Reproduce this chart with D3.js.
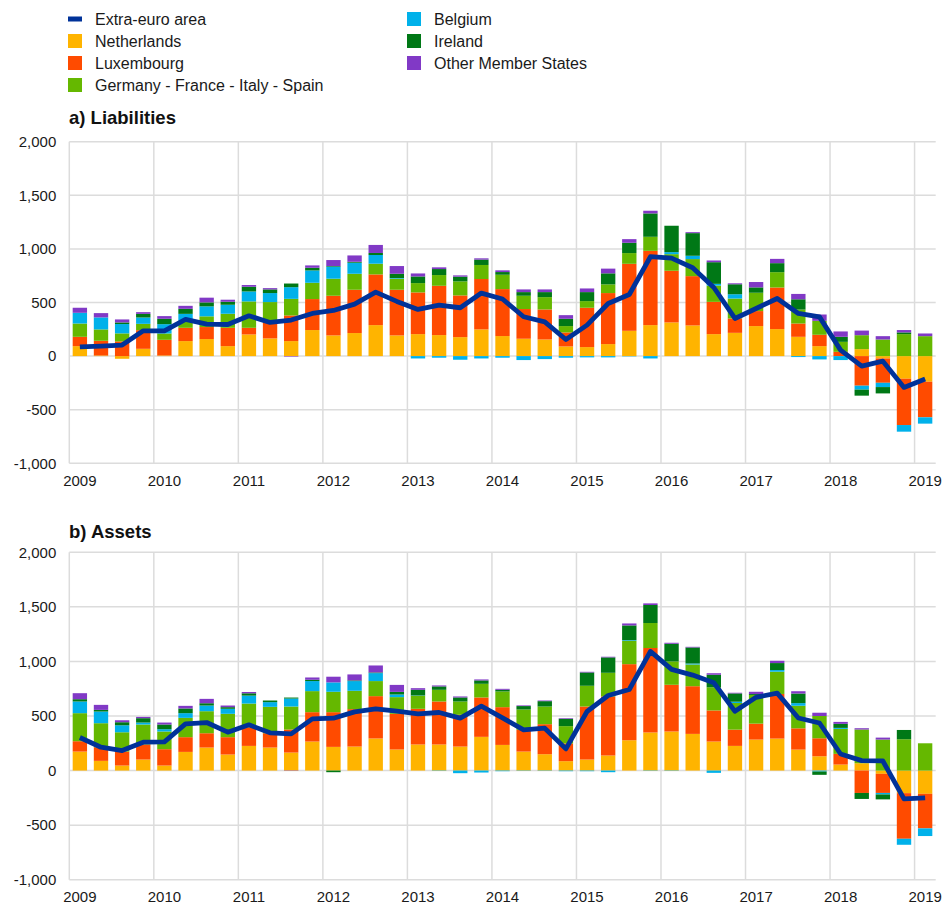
<!DOCTYPE html>
<html>
<head>
<meta charset="utf-8">
<script src="https://cdn.jsdelivr.net/npm/d3@7"></script>
<style>
  body { margin: 0; background: #fff; }
  svg { display: block; font-family: "Liberation Sans", Arial, sans-serif; }
  .axis text { font-size: 15px; fill: #1a1a1a; }
</style>
</head>
<body>
<div id="chart"></div>
<script>
'use strict';

// quarters 2009Q1 .. 2019Q1
var quarters = ["2009Q1","2009Q2","2009Q3","2009Q4","2010Q1","2010Q2","2010Q3","2010Q4",
    "2011Q1","2011Q2","2011Q3","2011Q4","2012Q1","2012Q2","2012Q3","2012Q4",
    "2013Q1","2013Q2","2013Q3","2013Q4","2014Q1","2014Q2","2014Q3","2014Q4",
    "2015Q1","2015Q2","2015Q3","2015Q4","2016Q1","2016Q2","2016Q3","2016Q4",
    "2017Q1","2017Q2","2017Q3","2017Q4","2018Q1","2018Q2","2018Q3","2018Q4","2019Q1"];
var yearTicks = ["2009Q1","2010Q1","2011Q1","2012Q1","2013Q1","2014Q1","2015Q1","2016Q1","2017Q1","2018Q1","2019Q1"];
var yTicks = [-1000, -500, 0, 500, 1000, 1500, 2000];

// a) Liabilities
var liabNetherlands = [93,6,-25,68,6,140,159,93,202,165,140,243,193,215,289,193,205,196,177,249,187,162,155,90,84,112,236,289,314,286,205,217,280,252,180,93,0,65,-22,-211,-239];
var liabLuxembourg = [87,137,137,174,146,124,112,171,62,149,239,289,370,404,473,426,389,460,389,470,438,277,280,131,367,476,625,693,482,460,301,134,140,388,124,106,40,-276,-227,-432,-332];
var liabBig4 = [124,106,75,59,59,65,100,131,246,190,155,152,159,149,100,103,87,100,131,131,134,124,115,59,62,81,100,131,155,159,152,186,171,143,130,130,93,130,155,205,186];
var liabBelgium = [100,112,87,59,87,65,93,84,93,84,109,115,112,103,81,6,-22,-15,-34,-22,-15,-37,-28,-15,-12,-12,-3,-22,19,31,16,40,0,0,-9,-31,-37,-37,-40,-62,-59];
var liabIreland = [0,0,15,34,50,47,37,28,44,34,34,25,6,9,19,40,62,56,44,50,25,34,47,68,84,103,96,218,246,211,202,93,50,84,96,0,47,-56,-59,16,0];
var liabOther = [47,40,28,16,25,28,44,19,16,12,-5,22,56,59,75,72,28,16,12,12,16,25,25,34,34,44,34,25,0,9,16,9,50,40,50,59,50,43,31,22,25];
var liabExtra = [87,93,103,236,236,342,299,295,376,314,336,398,426,485,597,510,435,476,451,588,533,367,320,155,289,491,575,927,914,824,640,351,444,537,398,366,56,-93,-47,-292,-214];

// b) Assets
var assetNetherlands = [174,89,46,101,46,171,211,147,226,211,165,266,217,220,294,193,239,239,220,309,235,174,150,86,101,138,278,349,358,336,266,226,284,293,192,131,55,67,-30,-207,-213];
var assetLuxembourg = [95,125,128,138,150,135,131,159,171,131,211,269,318,343,388,327,327,394,291,361,346,199,275,162,486,541,697,774,428,437,285,149,146,409,195,165,98,-205,-175,-418,-317];
var assetBig4 = [257,220,177,183,162,177,202,214,217,242,211,193,187,168,138,153,119,107,122,125,144,187,162,159,190,217,214,229,214,199,212,244,262,204,207,204,229,309,284,287,250];
var assetBelgium = [107,107,64,18,21,43,52,46,73,43,73,92,86,89,73,24,3,-3,-24,-18,-6,-3,-3,-6,-6,-15,6,-3,-3,9,-21,12,0,15,24,-9,9,0,-14,-55,-70];
var assetIreland = [21,15,28,40,43,43,21,15,21,15,9,12,-15,6,6,24,52,31,37,31,15,31,49,67,122,141,135,165,162,147,115,76,9,64,88,-30,37,-55,-45,85,0];
var assetOther = [55,46,18,12,18,24,40,15,12,0,-3,21,52,55,64,64,15,9,9,9,9,6,6,6,6,6,18,15,9,6,14,6,21,21,21,30,18,12,18,0,0];
var assetExtra = [303,214,183,260,263,428,440,352,419,346,336,474,480,538,566,544,520,532,480,590,483,373,388,199,541,688,743,1092,927,875,805,543,671,710,482,436,152,91,88,-259,-250];

var keys = ["Netherlands", "Luxembourg", "Germany - France - Italy - Spain", "Belgium", "Ireland", "Other Member States"];
var colors = {
    "Extra-euro area": "#003299",
    "Netherlands": "#FFB400",
    "Luxembourg": "#FF4B00",
    "Germany - France - Italy - Spain": "#65B800",
    "Belgium": "#00B1EA",
    "Ireland": "#007816",
    "Other Member States": "#8139C6"
};

function buildRows(series) {
    return quarters.map(function(q, i) {
        var row = {quarter: q};
        keys.forEach(function(k, j) { row[k] = series[j][i]; });
        return row;
    });
}

var width = 943, height = 904;
var svg = d3.select("#chart").append("svg")
    .attr("width", width)
    .attr("height", height);

// legend
var legendItems = [
    {label: "Extra-euro area", col: 0, row: 0, line: true},
    {label: "Netherlands", col: 0, row: 1},
    {label: "Luxembourg", col: 0, row: 2},
    {label: "Germany - France - Italy - Spain", col: 0, row: 3},
    {label: "Belgium", col: 1, row: 0},
    {label: "Ireland", col: 1, row: 1},
    {label: "Other Member States", col: 1, row: 2}
];
var legend = svg.append("g").attr("class", "legend");
var leg = legend.selectAll("g")
    .data(legendItems)
    .enter().append("g")
    .attr("transform", function(d) { return "translate(" + (d.col ? 407 : 68) + "," + (19 + d.row * 22) + ")"; });
leg.append("rect")
    .attr("x", 0)
    .attr("y", function(d) { return d.line ? -2.5 : -7; })
    .attr("width", 14)
    .attr("height", function(d) { return d.line ? 5 : 14; })
    .attr("fill", function(d) { return colors[d.label]; });
leg.append("text")
    .attr("x", 27)
    .attr("y", 6)
    .style("font-size", "16px")
    .style("fill", "#1a1a1a")
    .text(function(d) { return d.label; });

var fmt = d3.formatLocale({decimal: ".", thousands: ",", grouping: [3], currency: ["", ""], minus: "-"}).format(",");

function drawPanel(title, titleY, top, bottom, series, extra) {
    var left = 69.3, right = 935.7;
    var rows = buildRows(series);

    var x = d3.scaleBand()
        .domain(quarters)
        .range([left, right])
        .paddingInner(0.32)
        .paddingOuter(0.16);
    var y = d3.scaleLinear()
        .domain([-1000, 2000])
        .range([bottom, top]);

    var g = svg.append("g");

    svg.append("text")
        .attr("x", 69)
        .attr("y", titleY)
        .style("font-size", "18.5px")
        .style("font-weight", "bold")
        .style("fill", "#111")
        .text(title);

    // horizontal grid
    g.append("g").selectAll("line")
        .data(yTicks)
        .enter().append("line")
        .attr("x1", left).attr("x2", right)
        .attr("y1", function(d) { return y(d); })
        .attr("y2", function(d) { return y(d); })
        .attr("stroke", "#dcdcdc")
        .attr("stroke-width", 1.5);

    // vertical grid at start of each year
    g.append("g").selectAll("line")
        .data(yearTicks)
        .enter().append("line")
        .attr("x1", function(d) { return x(d) - x.step() * 0.16; })
        .attr("x2", function(d) { return x(d) - x.step() * 0.16; })
        .attr("y1", top).attr("y2", bottom)
        .attr("stroke", "#dcdcdc")
        .attr("stroke-width", 1.5);

    var stacked = d3.stack()
        .keys(keys)
        .offset(d3.stackOffsetDiverging)(rows);

    g.append("g").selectAll("g")
        .data(stacked)
        .enter().append("g")
        .attr("fill", function(d) { return colors[d.key]; })
        .selectAll("rect")
        .data(function(d) { return d; })
        .enter().append("rect")
        .attr("x", function(d) { return x(d.data.quarter); })
        .attr("width", x.bandwidth())
        .attr("y", function(d) { return y(Math.max(d[0], d[1])); })
        .attr("height", function(d) { return Math.abs(y(d[0]) - y(d[1])); });

    var line = d3.line()
        .x(function(d, i) { return x(quarters[i]) + x.bandwidth() / 2; })
        .y(function(d) { return y(d); });

    g.append("path")
        .datum(extra)
        .attr("fill", "none")
        .attr("stroke", colors["Extra-euro area"])
        .attr("stroke-width", 4.8)
        .attr("stroke-linejoin", "round")
        .attr("d", line);

    var yAxis = g.append("g")
        .attr("class", "axis")
        .attr("transform", "translate(" + left + ",0)")
        .call(d3.axisLeft(y).tickValues(yTicks).tickFormat(fmt).tickSize(0).tickPadding(13));
    yAxis.select(".domain").remove();

    var xAxis = g.append("g")
        .attr("class", "axis")
        .attr("transform", "translate(0," + bottom + ")")
        .call(d3.axisBottom(x).tickValues(yearTicks).tickFormat(function(d) { return d.slice(0, 4); }).tickSize(0).tickPadding(12));
    xAxis.select(".domain").remove();
}

drawPanel("a) Liabilities", 124, 141.7, 463.3,
    [liabNetherlands, liabLuxembourg, liabBig4, liabBelgium, liabIreland, liabOther], liabExtra);
drawPanel("b) Assets", 538, 552.3, 879.7,
    [assetNetherlands, assetLuxembourg, assetBig4, assetBelgium, assetIreland, assetOther], assetExtra);
</script>
</body>
</html>
